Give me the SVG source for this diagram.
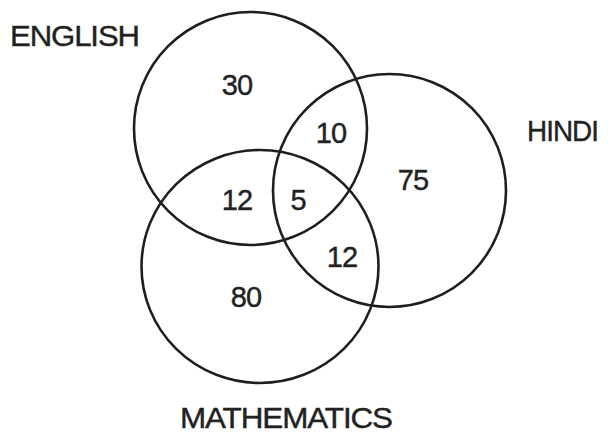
<svg xmlns="http://www.w3.org/2000/svg" width="613" height="435" viewBox="0 0 613 435">
<style>
.c{fill:none;stroke:#1e1e1e;stroke-width:2.6}
.t{font-family:"Liberation Sans",Arial,sans-serif;font-size:29px;fill:#222;stroke:#222;stroke-width:0.4;letter-spacing:-1px}
.n{text-anchor:middle}
</style>
<rect width="613" height="435" fill="#fff"/>
<g id="english"><circle class="c" cx="250.5" cy="128.5" r="116.5"/><text class="t" x="10" y="46" textLength="129" lengthAdjust="spacingAndGlyphs">ENGLISH</text></g>
<g id="hindi"><circle class="c" cx="389.5" cy="190.5" r="116.5"/><text class="t" x="527" y="141" textLength="71" lengthAdjust="spacingAndGlyphs">HINDI</text></g>
<g id="mathematics"><ellipse class="c" cx="260" cy="266.5" rx="118.5" ry="116.5"/><text class="t" x="180" y="428" textLength="212" lengthAdjust="spacingAndGlyphs">MATHEMATICS</text></g>
<g id="counts">
<text class="t n" x="237" y="95">30</text>
<text class="t n" x="331" y="143">10</text>
<text class="t n" x="413" y="190">75</text>
<text class="t n" x="237" y="210">12</text>
<text class="t n" x="298" y="210">5</text>
<text class="t n" x="342" y="267">12</text>
<text class="t n" x="246" y="307">80</text>
</g>
<g id="connectors"></g>
</svg>
